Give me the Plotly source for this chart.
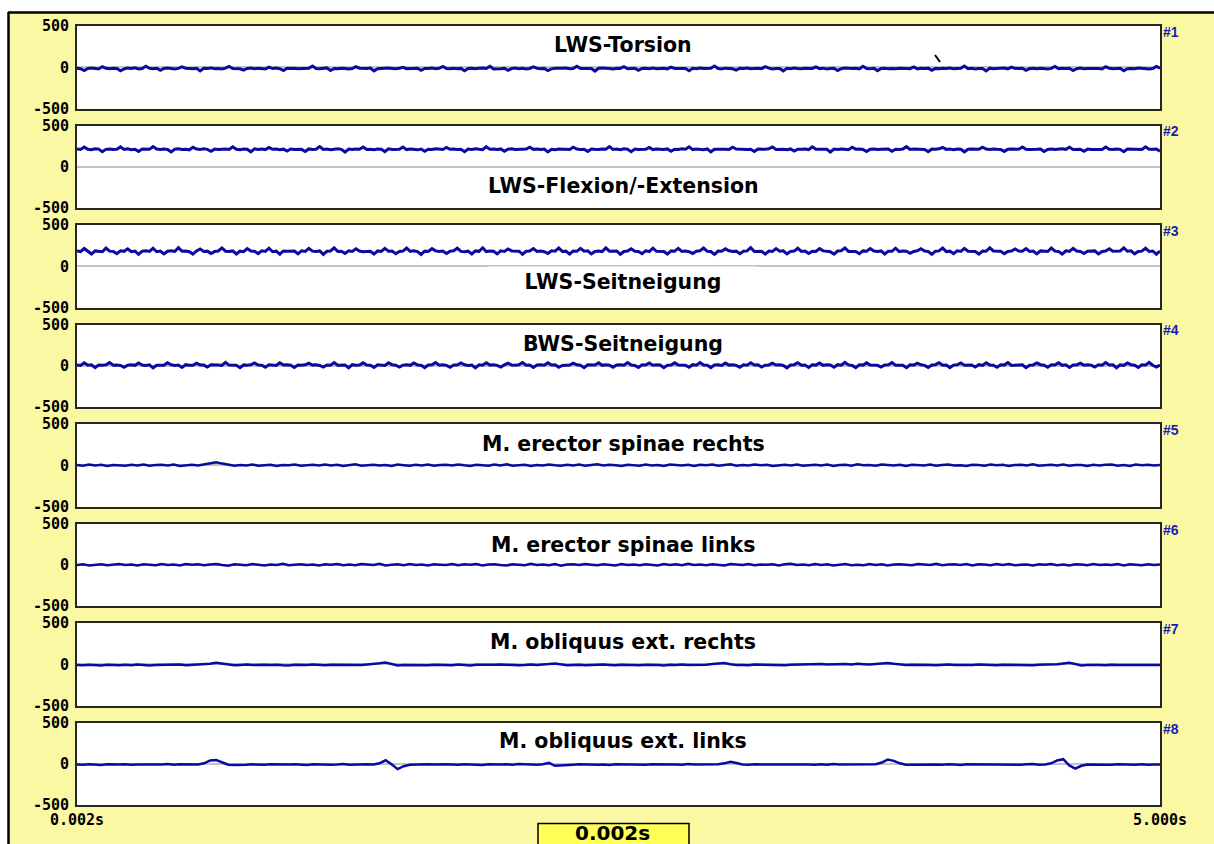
import numpy as np
import plotly.graph_objects as go

# ---- channel metadata -------------------------------------------------------
titles = [
    "LWS-Torsion",
    "LWS-Flexion/-Extension",
    "LWS-Seitneigung",
    "BWS-Seitneigung",
    "M. erector spinae rechts",
    "M. erector spinae links",
    "M. obliquus ext. rechts",
    "M. obliquus ext. links",
]
channel_ids = ["#1", "#2", "#3", "#4", "#5", "#6", "#7", "#8"]
t_start, t_end = 0.002, 5.000
x_tick_text = ["0.002s", "5.000s"]
y_tick_vals = [-500, 0, 500]
y_tick_text = ["-500", "0", "500"]
cursor_time = "0.002s"

# ---- recorded samples (one list per channel) --------------------------------
lws_torsion = [
    -12, -18, -40, -14, -9, -16, -20, 8, -13, -17, -11, -15, -42, -19, -10, -14, -6, -21, -16, 12,
    -13, -18, -12, -38, -15, -9, -17, -20, -14, 5, -11, -16, -19, -13, -45, -12, -15, -8, -18, -14,
    -20, -11, 10, -16, -13, -19, -35, -15, -10, -17, -12, -14, -21, 2, -16, -9, -18, -41, -13, -15,
    -11, -17, -14, -20, -12, 15, -16, -19, -13, -8, -39, -15, -18, -11, -14, -22, -16, 6, -12, -17,
    -15, -10, -44, -18, -13, -16, -9, -14, -19, -12, 0, -17, -15, -21, -11, -36, -14, -16, -10, -19,
    -13, 9, -15, -18, -12, -17, -14, -43, -16, -11, -19, -13, -8, -15, 11, -20, -14, -17, -12, -37,
    -16, -10, -18, -13, -21, -15, 4, -12, -17, -14, -40, -19, -11, -16, -13, -9, -18, -15, 13, -14,
    -12, -19, -16, -46, -13, -10, -17, -15, -20, -11, -14, 7, -18, -16, -12, -38, -15, -13, -19, -9,
    -17, -14, -11, -20, 1, -15, -13, -18, -16, -42, -12, -19, -10, -15, -17, -13, 14, -16, -21, -11,
    -14, -18, -35, -12, -16, -9, -19, -15, -13, -17, 8, -11, -20, -14, -16, -44, -13, -18, -10, -15,
    -19, -12, -16, -14, 3, -17, -11, -21, -15, -13, -39, -18, -10, -16, -14, -12, -20, 12, -15, -17,
    -13, -41, -16, -11, -19, -14, -18, -12, -9, -15, -17, 5, -20, -13, -16, -11, -36, -14, -18, -12,
    -16, -10, -19, -15, -13, 15, -17, -12, -21, -14, -16, -45, -11, -18, -13, -15, -9, -19, 2, -14,
    -17, -12, -38, -16, -13, -19, -11, -15, -20, -14, 10, -18, -12, -16, -13, -40, -17, -10, -19, -15,
    -11, -16, -14, -21, 6, -13, -18, -15, -12, -43, -17, -14, -19, -10, -16, -13, -20, -15, 9, -12,
]
lws_flexion = [
    215, 209, 238, 212, 206, 218, 214, 183, 211, 216, 208, 213, 241, 210, 217, 207, 212, 186, 215, 209,
    211, 244, 214, 208, 216, 210, 179, 213, 217, 209, 212, 205, 236, 215, 210, 218, 211, 188, 214, 208,
    213, 216, 209, 242, 211, 207, 215, 212, 181, 217, 210, 214, 208, 233, 212, 216, 206, 213, 190, 215,
    208, 214, 211, 185, 216, 210, 213, 245, 209, 215, 207, 212, 218, 211, 178, 214, 209, 216, 212, 239,
    210, 213, 207, 215, 212, 184, 217, 209, 214, 211, 240, 208, 216, 212, 205, 215, 187, 213, 210, 218,
    214, 209, 235, 212, 216, 208, 211, 182, 215, 210, 217, 213, 207, 243, 211, 214, 209, 216, 189, 212,
    217, 210, 213, 208, 215, 238, 211, 216, 209, 214, 180, 212, 207, 215, 213, 218, 210, 237, 214, 209,
    212, 186, 216, 211, 208, 215, 213, 244, 210, 214, 206, 217, 212, 183, 215, 209, 213, 211, 234, 208,
    215, 211, 209, 216, 188, 213, 210, 217, 212, 241, 208, 214, 211, 207, 216, 181, 213, 215, 210, 212,
    209, 236, 214, 211, 216, 208, 213, 185, 215, 210, 212, 217, 239, 209, 214, 211, 206, 216, 190, 213,
    211, 215, 208, 242, 213, 210, 216, 212, 179, 214, 209, 215, 211, 207, 237, 213, 216, 210, 184, 212,
    216, 209, 213, 211, 215, 187, 212, 208, 214, 243, 210, 216, 211, 213, 209, 182, 215, 212, 217, 235,
    210, 214, 207, 216, 212, 181, 213, 215, 209, 211, 238, 214, 208, 216, 212, 210, 186, 213, 215, 211,
    213, 240, 211, 209, 215, 212, 216, 184, 210, 214, 208, 213, 217, 211, 236, 209, 215, 212, 188, 214,
    209, 212, 216, 210, 239, 213, 208, 215, 211, 183, 214, 212, 210, 216, 209, 242, 213, 211, 215, 187,
]
lws_seitneigung = [
    185, 178, 215, 180, 148, 186, 182, 176, 220, 183, 179, 152, 187, 181, 212, 177, 184, 145, 183, 188,
    180, 218, 176, 185, 150, 182, 187, 179, 225, 181, 184, 176, 147, 186, 210, 180, 183, 155, 178, 185,
    222, 182, 179, 186, 149, 183, 177, 214, 184, 181, 153, 188, 180, 219, 176, 183, 146, 185, 182, 179,
    184, 151, 187, 180, 217, 183, 178, 186, 144, 181, 185, 223, 179, 182, 156, 187, 180, 211, 184, 177,
    183, 181, 148, 186, 179, 216, 182, 185, 152, 178, 184, 221, 181, 187, 177, 143, 183, 180, 213, 186,
    179, 184, 155, 182, 188, 218, 180, 176, 183, 149, 186, 181, 224, 178, 184, 182, 151, 187, 179, 210,
    186, 180, 183, 146, 181, 185, 215, 179, 184, 177, 154, 188, 182, 220, 180, 183, 147, 185, 181, 217,
    182, 187, 150, 180, 184, 178, 223, 183, 181, 186, 145, 179, 185, 212, 182, 180, 153, 187, 178, 219,
    181, 184, 179, 148, 186, 182, 216, 180, 185, 177, 155, 183, 188, 221, 181, 179, 144, 184, 182, 211,
    187, 178, 183, 152, 181, 186, 225, 179, 184, 182, 147, 185, 180, 214, 183, 187, 150, 178, 184, 218,
    180, 185, 154, 182, 179, 213, 186, 181, 177, 146, 184, 188, 222, 180, 183, 178, 151, 186, 182, 215,
    184, 179, 186, 149, 183, 181, 219, 178, 185, 182, 156, 180, 187, 212, 184, 179, 145, 183, 186, 220,
    178, 183, 152, 187, 180, 217, 182, 185, 179, 148, 184, 181, 224, 186, 180, 183, 153, 178, 185, 210,
    185, 181, 214, 179, 184, 150, 186, 182, 178, 221, 183, 180, 147, 187, 181, 216, 184, 179, 155, 182,
    183, 186, 149, 180, 185, 212, 181, 178, 184, 223, 182, 187, 151, 179, 183, 218, 180, 185, 146, 184,
]
bws_seitneigung = [
    10, 4, 35, 7, 12, -22, 9, 5, 11, 38, 6, 10, 3, -18, 8, 13, 5, 33, 9, 4,
    12, -25, 7, 10, 6, 36, 11, 3, 9, -20, 13, 7, 5, 31, 10, 8, -16, 12, 6, 9,
    4, 40, 8, 11, 7, -23, 10, 5, 12, 34, 9, 6, -19, 11, 8, 4, 37, 10, 13, 7,
    -21, 9, 5, 11, 32, 8, 12, 4, -17, 10, 7, 39, 6, 11, 9, -24, 13, 5, 8, 35,
    10, 6, -20, 12, 9, 4, 36, 11, 7, -15, 8, 13, 5, 33, 10, 6, -22, 9, 12, 38,
    7, 11, 5, -18, 10, 8, 34, 12, 4, 9, -25, 11, 6, 37, 8, 13, 5, -16, 10, 31,
    9, 5, 12, 40, 7, 10, -21, 8, 11, 6, 35, 9, 13, -19, 4, 10, 8, 32, 12, 6,
    -23, 11, 7, 9, 36, 5, 12, 8, -17, 10, 13, 6, 38, 9, 4, -20, 11, 8, 33, 7,
    12, 9, -24, 6, 10, 35, 8, 11, 5, -18, 13, 7, 39, 10, 6, -22, 9, 12, 4, 34,
    8, 13, 5, -19, 11, 7, 37, 9, 12, -16, 6, 10, 31, 8, 11, 4, -25, 9, 13, 36,
    6, 10, -21, 12, 8, 33, 5, 11, 9, -18, 13, 7, 40, 10, 4, -23, 12, 8, 35, 9,
    11, 5, -17, 9, 13, 38, 7, 10, 6, -24, 12, 8, 32, 11, 5, -20, 9, 13, 36, 7,
    10, -22, 8, 12, 34, 6, 11, 9, -15, 13, 5, 37, 10, 7, -19, 12, 8, 39, 4, 11,
    9, 12, -23, 7, 10, 33, 13, 6, -18, 11, 8, 36, 5, 12, -21, 9, 10, 31, 7, 13,
    8, -16, 11, 6, 38, 9, 12, -24, 10, 5, 34, 13, 7, -20, 11, 8, 40, 6, -17, 10,
]
erector_rechts = [
    3, -6, 8, -2, 5, -9, 4, 0, -5, 7, -3, 10, -7, 2, 6, -4, 9, -8, 1, 5,
    -2, 12, 25, 35, 20, 4, -6, 3, -3, 8, -5, 1, 7, -9, 4, -1, 10, -6, 2, 6,
    -4, 9, -2, 5, -8, 3, 11, -5, 0, 7, -3, 4, -10, 8, 1, -6, 6, -2, 9, -7,
    2, 5, -4, 10, -1, -8, 6, 3, -5, 8, -3, 12, -6, 1, 7, -9, 4, -2, 9, 0,
    -5, 6, -3, 8, -7, 2, 11, -4, 5, -1, -10, 7, 3, -6, 9, -2, 4, -8, 10, 1,
    -3, 6, -9, 5, 0, 8, -5, 3, 12, -7, 2, -4, 9, -1, 6, -8, 4, 7, -3, 10,
    -6, 1, 5, -2, 8, -10, 3, 6, -5, 11, -1, 4, -7, 9, 2, -4, 7, -9, 5, 0,
    -2, 8, -6, 4, 10, -3, 1, -8, 6, 3, -5, 9, -1, 7, -10, 2, 5, -4, 12, -6,
    0, 6, -3, 8, -7, 4, 2, -9, 7, -2, 5, 10, -5, 3, -8, 9, -1, 6, -4, 2,
]
erector_links = [
    -3, 5, -8, 2, 7, -5, 0, 9, -4, 3, -10, 6, 1, -6, 8, -2, 4, -9, 10, -1,
    5, -7, 3, 8, -3, -11, 6, 0, -5, 9, 2, -8, 4, -2, 11, -6, 1, 7, -4, 3,
    -9, 6, -1, 10, -5, 2, -7, 8, 4, -3, 12, -8, 0, 5, -6, 9, -2, 3, -10, 7,
    1, -4, 8, -7, 6, -1, 10, -9, 3, 5, -3, -8, 7, 2, -5, 11, -2, 4, -6, 9,
    -11, 3, 6, -4, 8, 0, -7, 5, 2, -9, 10, -3, 4, -6, 7, 1, -8, 9, -2, 5,
    -5, 12, -4, 3, -7, 6, 0, -10, 8, 2, -3, 9, -6, 4, -1, 7, -9, 5, 11, -4,
    2, -6, 8, -2, 6, -8, 3, 10, -5, 1, -7, 9, -3, 5, -10, 4, 7, -1, -6, 8,
    0, -4, 11, -7, 3, 6, -2, 9, -9, 5, 2, -5, 8, -3, 10, -6, 1, 4, -8, 7,
    -1, 9, -5, 3, -10, 6, 2, -7, 8, -2, 4, -4, 10, -8, 5, 1, -6, 7, -3, 3,
]
obliquus_rechts = [
    -8, -12, -6, -10, -14, -5, -9, -13, -7, -11, -4, -10, -15, -8, -6, -12, -9, -3, -11, -7,
    -10, -5, 5, 18, 8, -6, -12, -8, -4, -10, -13, -7, -9, -5, -11, -14, -6, -10, -8, -3,
    -9, -12, -5, -7, -11, -4, -8, -10, -2, 2, 12, 22, 5, -15, -8, -11, -5, -9, -13, -6,
    -10, -7, -12, -4, -9, -14, -6, -8, -11, -5, -3, -9, -7, -12, -10, -4, -8, -6, 2, 10,
    -2, -13, -9, -5, -11, -7, -10, -3, -8, -12, -6, -9, -4, -11, -7, -5, -10, -14, -6, -8,
    -3, -9, -11, -5, -7, 2, 12, 15, 0, -10, -8, -12, -4, -6, -9, -2, -7, -11, -5, -3,
    -8, -6, -1, 2, -4, 0, 5, 3, -2, 6, 1, -3, 4, 8, 15, 5, -4, -8, -6, -10,
    -5, -9, -12, -7, -3, -8, -11, -6, -10, -4, -7, -9, -13, -5, -8, -2, -6, -10, -12, -7,
    -4, -9, 0, 10, 18, 4, -14, -10, -6, -8, -12, -5, -9, -7, -11, -4, -8, -10, -6, -9,
]
obliquus_links = [
    -8, -12, -6, -10, -14, -7, -11, -9, -5, -13, -8, -10, -6, -12, -9, -4, -11, -7, -10, -13,
    -8, 5, 40, 45, 15, -12, -15, -9, -11, -7, -10, -13, -6, -9, -12, -8, -5, -11, -14, -7,
    -10, -6, -12, -9, -4, -11, -8, -13, -7, -10, 5, 42, -5, -65, -30, -12, -8, -11, -6, -10,
    -13, -7, -9, -12, -5, -10, -8, -14, -6, -11, -9, -7, -12, -4, -10, -8, -13, -6, 10, -25,
    -18, -9, -11, -7, -10, -5, -12, -8, -14, -6, -9, -11, -7, -10, -13, -5, -8, -12, -6, -9,
    -11, -4, -10, -7, -13, -9, -6, 5, 25, 8, -8, -12, -6, -10, -9, -14, -7, -11, -5, -8,
    -6, -9, -13, -7, -11, -4, -10, -8, -12, -6, -9, -8, -5, 15, 50, 35, 5, -12, -10, -7,
    -11, -5, -9, -12, -6, -10, -14, -7, -8, -11, -5, -9, -13, -6, -10, -8, -12, -7, -4, -11,
    -9, 5, 40, 55, -20, -60, -25, -10, -12, -7, -9, -13, -6, -10, -8, -11, -5, -12, -9, -8,
]
channels = [lws_torsion, lws_flexion, lws_seitneigung, bws_seitneigung,
            erector_rechts, erector_links, obliquus_rechts, obliquus_links]
line_widths = [3, 3, 3, 3, 2.5, 2.5, 2.5, 2.5]

# ---- page geometry (pixels) -------------------------------------------------
W, H = 1214, 844
plot_left, plot_right = 77, 1160
panel_tops = [26, 125.5, 225, 324.5, 424, 523.5, 623, 722.5]
panel_h = 82.5
# vertical placement of each channel caption, in that channel's data units
caption_y = [270, -232, -188, 265, 262, 245, 275, 270]

BG_YELLOW = "#fbf8a4"
TRACE_BLUE = "#0a0aa0"
FRAME = "#262626"
MONO = "DejaVu Sans Mono"
SANS = "DejaVu Sans"


def px_x(p):
    return p / W


def px_y(p):
    return 1 - p / H


fig = go.Figure()
annotations = []

for i, (vals, title, cid) in enumerate(zip(channels, titles, channel_ids)):
    sfx = "" if i == 0 else str(i + 1)
    t = np.linspace(t_start, t_end, len(vals))
    fig.add_trace(go.Scatter(
        x=t, y=vals, mode="lines", xaxis="x" + sfx, yaxis="y" + sfx,
        line=dict(color=TRACE_BLUE, width=line_widths[i]),
        hoverinfo="skip", showlegend=False,
    ))
    top = panel_tops[i]
    bottom = top + panel_h
    is_last = i == len(channels) - 1
    fig.update_layout({
        "xaxis" + sfx: dict(
            domain=[px_x(plot_left), px_x(plot_right)], range=[t_start, t_end],
            anchor="y" + sfx, showline=True, mirror=True, linecolor=FRAME, linewidth=2,
            showgrid=False, zeroline=False, ticks="", showticklabels=is_last,
            tickvals=[t_start, t_end], ticktext=x_tick_text, automargin=False,
            tickfont=dict(family=MONO, size=15, color="black", weight="bold"),
            fixedrange=True,
        ),
        "yaxis" + sfx: dict(
            domain=[px_y(bottom), px_y(top)], range=[-500, 500],
            anchor="x" + sfx, showline=True, mirror=True, linecolor=FRAME, linewidth=2,
            showgrid=False, zeroline=True, zerolinecolor="#c4c4c4", zerolinewidth=2,
            ticks="", tickvals=y_tick_vals, ticktext=y_tick_text, ticklabelstandoff=3,
            tickfont=dict(family=MONO, size=15, color="black", weight="bold"),
            automargin=False, fixedrange=True,
        ),
    })
    caption = dict(
        text=title, xref="paper", x=px_x(623), yref="y" + sfx, y=caption_y[i],
        xanchor="center", yanchor="middle", showarrow=False,
        font=dict(family=SANS, size=20.5, color="black", weight="bold"),
    )
    if i == 2:
        # caption sits on the zero line, so it gets a white backing box
        caption.update(bgcolor="white", width=268, height=30, borderpad=0)
    annotations.append(caption)
    annotations.append(dict(
        text=cid, xref="paper", x=px_x(1161), yref="paper", y=px_y(top - 4),
        xanchor="left", yanchor="top", showarrow=False,
        font=dict(family="Liberation Sans", size=14, color="#1c1cb4", weight="bold"),
    ))

# time cursor read-out below the last panel
annotations.append(dict(
    text=cursor_time, xref="paper", x=px_x(612), yref="paper", y=0,
    xanchor="center", yanchor="bottom", yshift=-3, showarrow=False,
    font=dict(family=SANS, size=20, color="black", weight="bold"),
))

shapes = [
    # read-out box
    dict(type="rect", xref="paper", yref="paper", x0=px_x(538), x1=px_x(689),
         y0=px_y(852), y1=px_y(823.5), fillcolor="#ffff55",
         line=dict(color="black", width=1.5), layer="below"),
    # white strip across the top and left, with the dark window frame
    dict(type="rect", xref="paper", yref="paper", x0=-0.01, x1=1.01,
         y0=px_y(12), y1=1.01, fillcolor="white", line=dict(width=0), layer="above"),
    dict(type="rect", xref="paper", yref="paper", x0=-0.01, x1=px_x(8),
         y0=-0.01, y1=1.01, fillcolor="white", line=dict(width=0), layer="above"),
    dict(type="line", xref="paper", yref="paper", x0=px_x(8), x1=1.01,
         y0=px_y(12.5), y1=px_y(12.5), line=dict(color="black", width=2.5), layer="above"),
    dict(type="line", xref="paper", yref="paper", x0=px_x(8.5), x1=px_x(8.5),
         y0=-0.01, y1=px_y(12), line=dict(color="black", width=2.5), layer="above"),
    # mouse pointer tick inside the first panel
    dict(type="line", xref="paper", yref="paper", x0=px_x(935), x1=px_x(940),
         y0=px_y(55), y1=px_y(62), line=dict(color="black", width=2), layer="above"),
]

fig.update_layout(
    width=W, height=H, margin=dict(l=0, r=0, t=0, b=0, pad=0),
    paper_bgcolor=BG_YELLOW, plot_bgcolor="white",
    annotations=annotations, shapes=shapes, showlegend=False, hovermode=False,
)

fig.write_html("out.html", config={"displayModeBar": False})
